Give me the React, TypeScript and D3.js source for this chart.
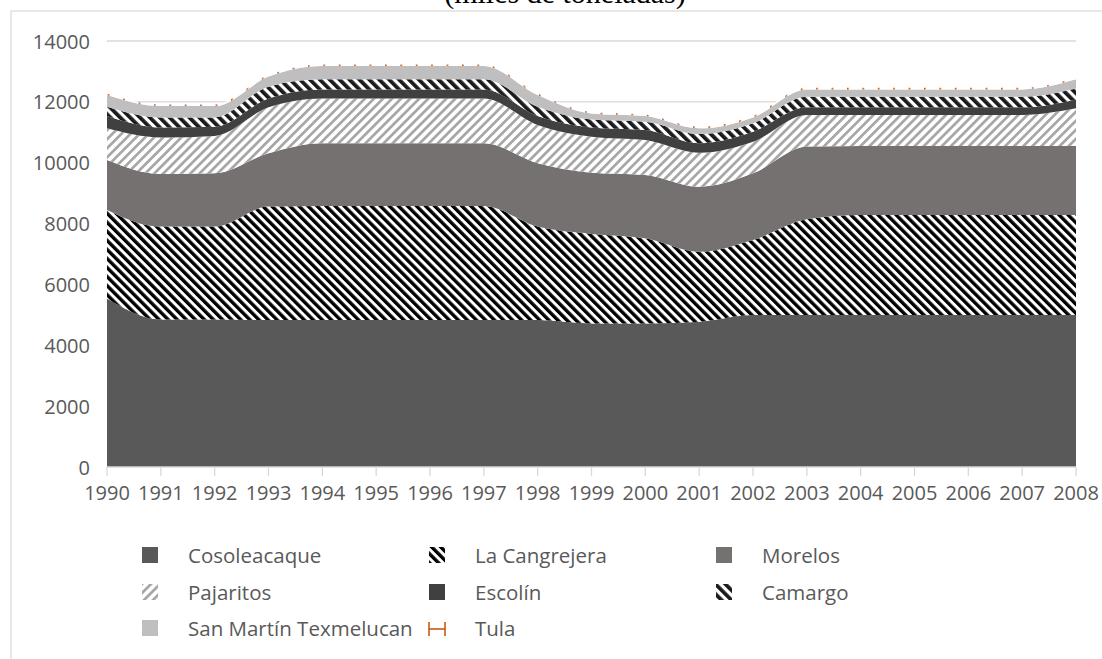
import React from "react";
import * as d3 from "d3";

const years = [1990, 1991, 1992, 1993, 1994, 1995, 1996, 1997, 1998, 1999, 2000, 2001, 2002, 2003, 2004, 2005, 2006, 2007, 2008];
const cosoleacaque = [5540, 4850, 4850, 4830, 4830, 4830, 4830, 4830, 4830, 4720, 4720, 4775, 4995, 4995, 4995, 4995, 4995, 4995, 4995];
const laCangrejera = [2910, 3050, 3050, 3730, 3750, 3750, 3750, 3750, 3070, 2940, 2795, 2300, 2465, 3145, 3285, 3285, 3285, 3285, 3285];
const morelos = [1640, 1730, 1750, 1750, 2060, 2060, 2060, 2060, 2080, 2010, 2085, 2135, 2190, 2390, 2270, 2270, 2270, 2270, 2270];
const pajaritos = [1040, 1200, 1230, 1510, 1470, 1470, 1470, 1470, 1260, 1185, 1145, 1120, 1040, 1040, 1020, 1020, 1020, 1020, 1240];
const escolin = [405, 330, 300, 290, 300, 300, 300, 300, 295, 305, 330, 310, 330, 250, 250, 250, 250, 250, 290];
const camargo = [305, 330, 310, 390, 330, 330, 330, 330, 305, 260, 275, 300, 275, 350, 350, 350, 350, 350, 360];
const sanMartin = [385, 370, 370, 330, 440, 440, 440, 440, 385, 200, 185, 190, 195, 240, 240, 240, 240, 240, 300];
const tula = [50, 50, 50, 50, 50, 50, 50, 50, 50, 50, 50, 50, 50, 50, 50, 50, 50, 50, 50];

const seriesNames = ["Cosoleacaque", "La Cangrejera", "Morelos", "Pajaritos", "Escolín", "Camargo", "San Martín Texmelucan", "Tula"];
const seriesValues = [cosoleacaque, laCangrejera, morelos, pajaritos, escolin, camargo, sanMartin, tula];
const seriesFills = ["#595959", "url(#pCang)", "#767171", "url(#pPaj)", "#404040", "url(#pCam)", "#bfbfbf", "url(#pTula)"];
const yTicks = [0, 2000, 4000, 6000, 8000, 10000, 12000, 14000];
const title = "(miles de toneladas)";

const font = "'Open Sans', sans-serif";
const textColor = "#595959";

export default function App() {
  const W = 1102, H = 659;
  const x = d3.scaleLinear().domain([1990, 2008]).range([107, 1076]);
  const y = d3.scaleLinear().domain([0, 14000]).range([467, 41]);

  const table = years.map((yr, i) => {
    const row: any = { year: yr };
    seriesNames.forEach((n, k) => (row[n] = seriesValues[k][i]));
    return row;
  });
  const stacked = d3.stack().keys(seriesNames)(table as any);
  const area = d3
    .area<any>()
    .x((d) => x(d.data.year))
    .y0((d) => y(d[0]))
    .y1((d) => y(d[1]))
    .curve(d3.curveMonotoneX);

  const legendCols = [150, 437, 724];
  const legendTextCols = [188, 475, 762];
  const legendRows = [555, 592, 628];

  return (
    <svg width={W} height={H} style={{ position: "absolute", left: 0, top: 0 }}>
      <defs>
        <pattern id="pCang" patternUnits="userSpaceOnUse" width={6.4} height={6.4} patternTransform="rotate(-45)">
          <rect width={6.4} height={6.4} fill="#ffffff" />
          <rect width={3.4} height={6.4} fill="#000000" />
        </pattern>
        <pattern id="pPaj" patternUnits="userSpaceOnUse" width={6.4} height={6.4} patternTransform="rotate(45)">
          <rect width={6.4} height={6.4} fill="#ffffff" />
          <rect width={2.7} height={6.4} fill="#a6a6a6" />
        </pattern>
        <pattern id="pCam" patternUnits="userSpaceOnUse" width={7} height={7} patternTransform="rotate(-45)">
          <rect width={7} height={7} fill="#ffffff" />
          <rect width={3.8} height={7} fill="#1a1a1a" />
        </pattern>
        <pattern id="pTula" patternUnits="userSpaceOnUse" width={15.4} height={20}>
          <rect width={15.4} height={20} fill="#ffffff" />
          <rect x={0} width={1.6} height={20} fill="#c55a11" />
        </pattern>
      </defs>
      <rect x={0} y={0} width={W} height={H} fill="#ffffff" />
      <text x={565} y={3} textAnchor="middle" fontFamily="'Liberation Serif', serif" fontSize={30} fill="#000">
        {title}
      </text>
      <rect x={11} y={11} width={1100} height={700} fill="none" stroke="#d9d9d9" strokeWidth={1.2} />

      {yTicks.map((t) => (
        <g key={t}>
          {t > 0 && <line x1={107} x2={1076} y1={y(t)} y2={y(t)} stroke="#d9d9d9" strokeWidth={1.3} />}
          <text x={90} y={y(t) + 7.5} textAnchor="end" fontFamily={font} fontSize={20} fill={textColor}>
            {t}
          </text>
        </g>
      ))}

      {stacked.map((s, k) => (
        <path key={seriesNames[k]} d={area(s as any) || ""} fill={seriesFills[k]} />
      ))}

      <line x1={107} x2={1076} y1={y(0)} y2={y(0)} stroke="#d9d9d9" strokeWidth={1.3} />
      {years.map((yr) => (
        <g key={yr}>
          <line x1={x(yr)} x2={x(yr)} y1={y(0)} y2={y(0) + 9} stroke="#d9d9d9" strokeWidth={1.3} />
          <text x={x(yr)} y={500} textAnchor="middle" fontFamily={font} fontSize={20} fill={textColor}>
            {yr}
          </text>
        </g>
      ))}

      {seriesNames.map((n, k) => {
        const col = k % 3;
        const row = Math.floor(k / 3);
        const cx = legendCols[col];
        const cy = legendRows[row];
        return (
          <g key={n}>
            {n === "Tula" ? (
              <g stroke="#c55a11" strokeWidth={1.6}>
                <line x1={cx - 8} x2={cx + 8} y1={cy + 1} y2={cy + 1} />
                <line x1={cx - 8} x2={cx - 8} y1={cy - 6} y2={cy + 8} />
                <line x1={cx + 8} x2={cx + 8} y1={cy - 6} y2={cy + 8} />
              </g>
            ) : (
              <rect x={cx - 8} y={cy - 8} width={16} height={16} fill={seriesFills[k]} />
            )}
            <text x={legendTextCols[col]} y={cy + 7.5} fontFamily={font} fontSize={20.5} fill={textColor}>
              {n}
            </text>
          </g>
        );
      })}
    </svg>
  );
}
